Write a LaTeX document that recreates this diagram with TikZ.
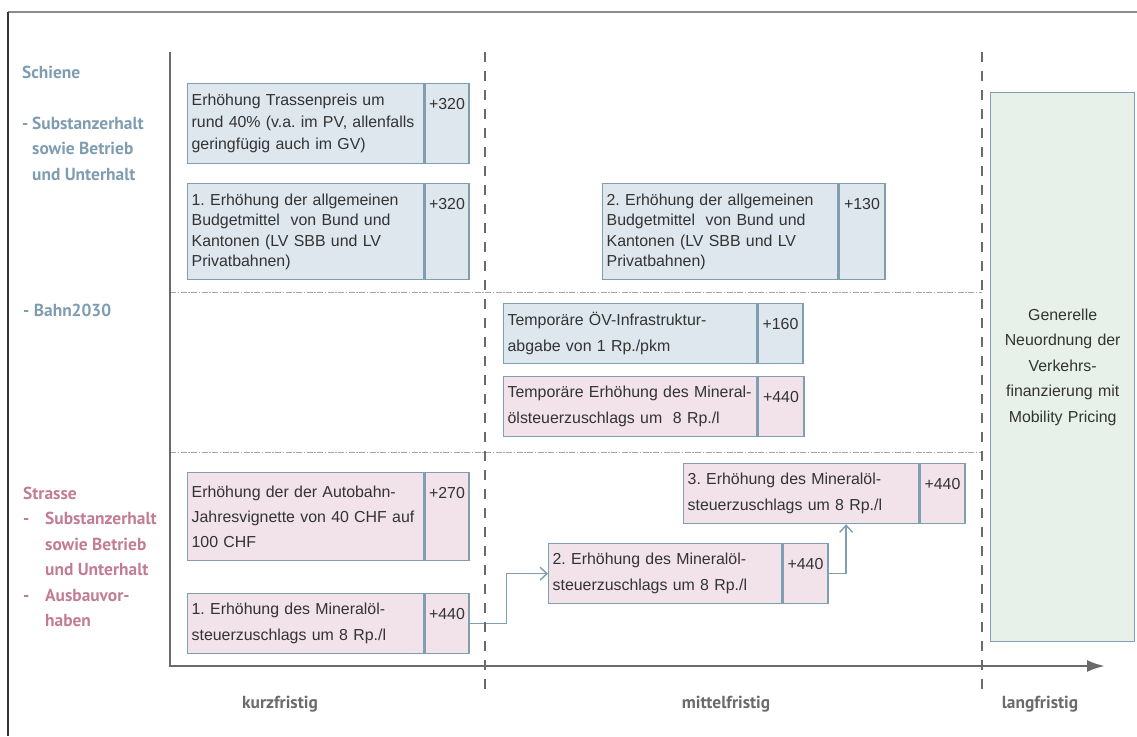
\documentclass[tikz,border=0pt]{standalone}
\usepackage{fontspec}
\setmainfont{Liberation Sans}
\newfontfamily\headfont{PT Sans}
\usetikzlibrary{arrows.meta}
\definecolor{railfill}{HTML}{DEE7EE}
\definecolor{roadfill}{HTML}{F1E3E9}
\definecolor{longfill}{HTML}{E8F0EA}
\definecolor{cellline}{HTML}{7F9EB0}
\definecolor{railtext}{HTML}{7F9DB0}
\definecolor{roadtext}{HTML}{C27D95}
\definecolor{axisgray}{HTML}{6A6A6A}
\definecolor{textgray}{HTML}{333333}
\tikzstyle{timeaxis} = [line width=2.6pt,draw=axisgray,-{Latex[length=18pt,width=12pt]}]
\tikzstyle{link} = [line width=1.4pt,draw=cellline,-{Straight Barb[length=7pt,width=13pt]}]
\frenchspacing

\begin{document}
\begin{tikzpicture}
        [x=1pt,y=-1pt,
            cell/.style={draw=cellline,line width=1.3pt,anchor=north west,inner xsep=4pt,inner ysep=0pt,
                align=left,text=textgray,font=\fontsize{15.9}{#1}\selectfont},
            val/.style={cell=20,text height=26pt,text depth=#1},
            railhead/.style={text=railtext,inner sep=0pt,anchor=base west,font=\headfont\bfseries\fontsize{17.4}{25.5}\selectfont},
            roadhead/.style={railhead,text=roadtext},
            termlabel/.style={text=axisgray,inner sep=0pt,anchor=base,font=\headfont\bfseries\fontsize{17.4}{20}\selectfont},
            phase/.style={draw=axisgray,line width=2.4pt,dash pattern=on 10pt off 9pt},
            rowsep/.style={draw=black!35,line width=0.8pt,dash pattern=on 6pt off 1.5pt on 1.5pt off 1.5pt},
        ]
    \useasboundingbox (0,0) rectangle (1137,736);

    \draw[black!45,line width=2pt] (8,12) -- (1137,12);
    \draw[black!80,line width=1.2pt] (8,12) -- (8,736);

    \foreach \y in {292,452}
        \draw[rowsep] (170,\y) -- (982,\y);

    \node[railhead] (schiene) at (22,78) {Schiene};
    \node[railhead] (schsub) at (22,129) {\begin{tabular}[t]{@{}p{10pt}@{}l@{}}-&Substanzerhalt\\&sowie Betrieb\\&und Unterhalt\end{tabular}};
    \node[railhead] (bahn) at (23,316) {- Bahn2030};
    \node[roadhead] (strasse) at (23,499) {\begin{tabular}[t]{@{}p{22pt}@{}l@{}}\multicolumn{2}{@{}l@{}}{Strasse}\\-&Substanzerhalt\\&sowie Betrieb\\&und Unterhalt\\-&Ausbauvor-\\&haben\end{tabular}};

    \node[cell=22,fill=railfill,text width=228pt,minimum height=80pt] (trasse) at (187,83)
        {Erhöhung Trassenpreis um\\rund 40\% (v.a. im PV, allenfalls\\geringfügig auch im GV)};
    \node[val=54pt,fill=railfill,minimum width=44pt] (trasseval) at (trasse.north east) {+320};

    \node[cell=20.5,fill=railfill,text width=228pt,minimum height=96pt] (budget1) at (187,183)
        {1. Erhöhung der allgemeinen\\Budgetmittel\ \ von Bund und\\Kantonen (LV SBB und LV\\Privatbahnen)};
    \node[val=70pt,fill=railfill,minimum width=44pt] (budget1val) at (budget1.north east) {+320};

    \node[cell=20.5,fill=railfill,text width=227pt,minimum height=96pt] (budget2) at (602,183)
        {2. Erhöhung der allgemeinen\\Budgetmittel\ \ von Bund und\\Kantonen (LV SBB und LV\\Privatbahnen)};
    \node[val=70pt,fill=railfill,minimum width=46pt] (budget2val) at (budget2.north east) {+130};

    \node[cell=26,fill=railfill,text width=245pt,minimum height=60pt] (oevabgabe) at (503,303)
        {Temporäre ÖV-Infrastruktur-\\abgabe von 1 Rp./pkm};
    \node[val=34pt,fill=railfill,minimum width=45pt] (oevabgabeval) at (oevabgabe.north east) {+160};

    \node[cell=26,fill=roadfill,text width=245pt,minimum height=60pt] (oelbahn) at (503,376)
        {Temporäre Erhöhung des Mineral-\\ölsteuerzuschlags um\ \ 8 Rp./l};
    \node[val=34pt,fill=roadfill,minimum width=46pt] (oelbahnval) at (oelbahn.north east) {+440};

    \node[cell=25,fill=roadfill,text width=228pt,minimum height=88pt] (vignette) at (187,472)
        {Erhöhung der der Autobahn-\\Jahresvignette von 40 CHF auf\\100 CHF};
    \node[val=62pt,fill=roadfill,minimum width=44pt] (vignetteval) at (vignette.north east) {+270};

    \node[cell=26,fill=roadfill,text width=228pt,minimum height=60pt] (oel1) at (187,593)
        {1. Erhöhung des Mineralöl-\\steuerzuschlags um 8 Rp./l};
    \node[val=34pt,fill=roadfill,minimum width=44pt] (oel1val) at (oel1.north east) {+440};

    \node[cell=26,fill=roadfill,text width=225pt,minimum height=60pt] (oel2) at (548,543)
        {2. Erhöhung des Mineralöl-\\steuerzuschlags um 8 Rp./l};
    \node[val=34pt,fill=roadfill,minimum width=45pt] (oel2val) at (oel2.north east) {+440};

    \node[cell=26,fill=roadfill,text width=227pt,minimum height=60pt] (oel3) at (683,463)
        {3. Erhöhung des Mineralöl-\\steuerzuschlags um 8 Rp./l};
    \node[val=34pt,fill=roadfill,minimum width=45pt] (oel3val) at (oel3.north east) {+440};

    \node[cell=25.6,fill=longfill,text width=136pt,align=center,minimum height=549pt] (mobility) at (990,92)
        {Generelle\\Neuordnung der\\Verkehrs-\\finanzierung mit\\Mobility Pricing};

    \draw[link] (oel1val.east) -- ++(37,0) |- (oel2.west);
    \draw[link] (oel2val.east) -| ([xshift=45pt]oel3.south);

    \foreach \x in {485,982}
        \draw[phase] (\x,52) -- (\x,692);

    \draw[timeaxis] (170,52) -- (170,666) -- (1105,666);

    \node[termlabel] (kurz) at (280,708) {kurzfristig};
    \node[termlabel] (mittel) at (726,708) {mittelfristig};
    \node[termlabel] (lang) at (1040,708) {langfristig};
    \end{tikzpicture}
\end{document}
